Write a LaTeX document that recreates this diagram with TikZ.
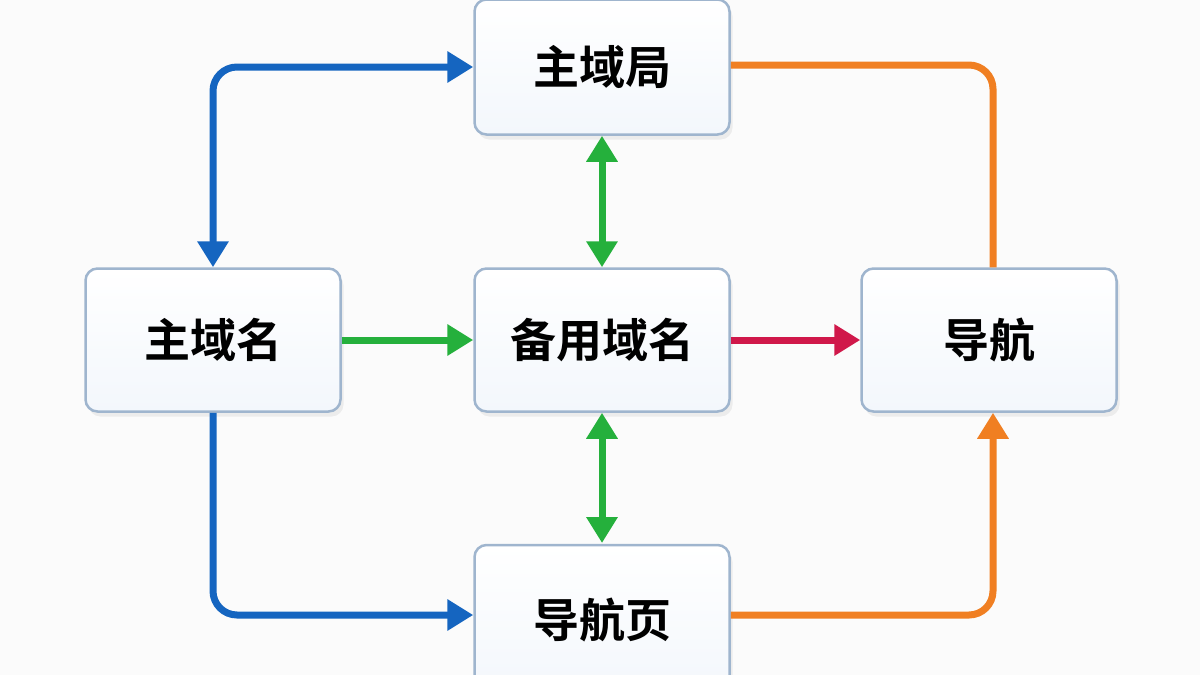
\documentclass[tikz,border=0pt]{standalone}
\usepackage{fontspec}
\newfontfamily\cjk{Noto Sans CJK SC}[BoldFont={Noto Sans CJK SC Bold}]
\usetikzlibrary{arrows.meta,shadows}
\definecolor{cb}{HTML}{1565C0}
\definecolor{cg}{HTML}{25B03C}
\definecolor{cr}{HTML}{D0184A}
\definecolor{co}{HTML}{F07F22}
\definecolor{bd}{HTML}{9FB5CE}
\definecolor{bf}{HTML}{F3F7FC}
\begin{document}
\begin{tikzpicture}[x=1pt,y=-1pt,
  box/.style={draw=bd,line width=2.5pt,rounded corners=12pt,top color=white,bottom color=bf,
    minimum width=255pt,minimum height=143pt,font=\cjk\bfseries\fontsize{46}{54}\selectfont,
    drop shadow={opacity=0.12,shadow xshift=3pt,shadow yshift=-5pt}},
  tip/.style={Triangle[length=26pt,width=30pt]},
  con/.style={line width=7pt,rounded corners=24pt,-{Triangle[length=26pt,width=30pt]}},
  dcon/.style={line width=7pt,{Triangle[length=26pt,width=30pt]}-{Triangle[length=26pt,width=30pt]}}]
\fill[white!97!gray] (0,0) rectangle (1200,675);
\useasboundingbox (0,0) rectangle (1200,675);
\node[box,minimum height=135pt] (top) at (602,67) {主域局};
\node[box] (left) at (213,340) {主域名};
\node[box] (mid) at (602,340) {备用域名};
\node[box] (right) at (989,340) {导航};
\node[box,minimum height=150pt] (bot) at (602,620) {导航页};
\coordinate (bottomref) at (602,543);
\draw[con,cb,{Triangle[length=26pt,width=30pt]}-{Triangle[length=26pt,width=30pt]}] (left.north) |- (top.west);
\draw[con,cb] (left.south) |- (bot.west|-0,615);
\draw[con,cg] (left.east) -- (mid.west);
\draw[dcon,cg] (top.south) -- (mid.north);
\draw[dcon,cg] (mid.south) -- (bottomref);
\draw[con,cr] (mid.east) -- (right.west);
\draw[line width=7pt,rounded corners=24pt,co] (top.east|-0,65) -| (right.north-|993,0);
\draw[con,co] (bot.east|-0,615) -| (right.south-|993,0);
\end{tikzpicture}
\end{document}
